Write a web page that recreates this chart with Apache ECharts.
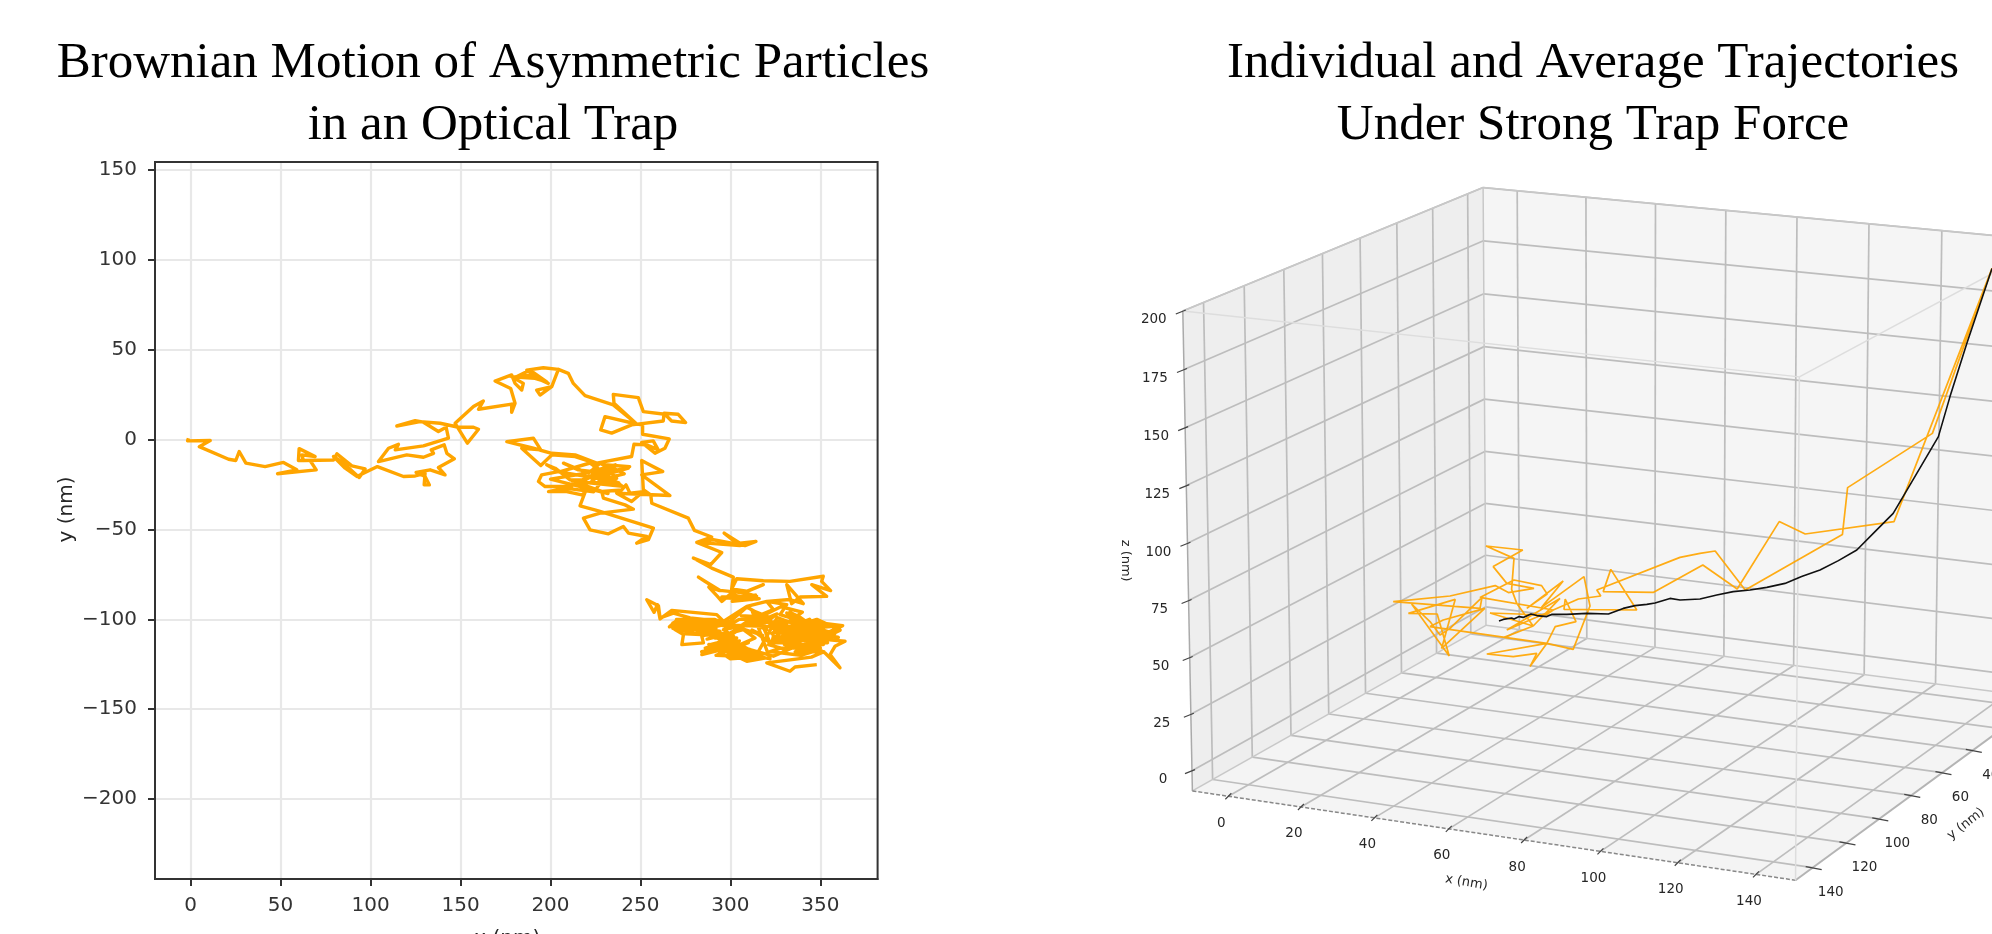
<!DOCTYPE html>
<html><head><meta charset="utf-8"><style>html,body{margin:0;padding:0;background:#fff}#c{width:1992px;height:934px}</style>
<script src="https://cdn.jsdelivr.net/npm/echarts@6/dist/echarts.min.js"></script></head><body><div id="c"></div><script>
const titleLeft = "Brownian Motion of Asymmetric Particles\nin an Optical Trap";
const titleRight = "Individual and Average Trajectories\nUnder Strong Trap Force";
const xTicksLeft = [0,50,100,150,200,250,300,350];
const yTicksLeft = [-200,-150,-100,-50,0,50,100,150];
const pathX = [-1.2,-1.7,10.9,4.8,21.1,25.1,27,30.7,41.4,51.6,59,48.3,69.8,66.4,59.9,60.3,69.2,61.8,62.7,79.4,81.3,89.6,97,93.7,85,79.4,85.9,92.4,103.8,118.3,124.8,130.3,129.8,132.7,130.3,125.3,133.1,141.4,137.7,146.6,142.4,140.9,133.7,135,129.4,120.1,104.4,110,115.5,113.7,129.4,143.3,142,137.7,129.4,124.8,114.6,127.5,138.7,148.9,157.2,160,153.8,147,157.2,162.7,160,178.5,178.4,180.3,177.9,169.2,178.4,180.3,184,184.9,178.4,191.4,197.9,188.6,179.4,188.6,198.8,191.4,186.8,196,204.4,200.7,194.2,192.3,200.7,204.4,209.9,212.7,219.2,234.9,247.9,230.3,227.9,234,245.1,262.7,263.1,271,275.1,267.3,263.6,251.6,248.8,234.9,235.3,247.9,251.2,251.2,266,263.6,258.1,250.7,257.1,259.9,253.4,246.4,246.1,245.1,225.7,213.7,200.7,190.5,175.7,190.5,194.6,184,194.6,200.7,213.7,224.8,222.9,233.1,243.3,235.9,227.6,221.1,207.2,215.5,223.9,227.6,236.8,230,244,226,238,222,233,241,229,205,222,240,212,232,200,218,236,224,208,227.6,219.2,210.9,202.6,197.9,204.4,195.1,193.3,197,211.8,198.9,209,217.4,219.2,216.4,226.6,257.2,254.4,247.9,253.5,243.3,240.5,232.2,222,218.3,227.6,246.1,241.4,229.4,228.5,239.6,242,244.2,251.6,245.1,236.8,266.4,250.7,262.4,253.5,250.7,251.6,255.7,256.3,276.6,280,289.6,281.3,305.3,296.5,305.3,314.2,308.1,290.5,281.3,295.2,289,279.4,289.6,301.6,300.7,309,318.3,307.2,294.2,282.2,286,294,288,292.8,295.2,300,312,297,314,301,316,314.6,295.2,314.6,300.7,303.5,318.3,333.1,351.6,350.7,355.7,345.2,353.5,338.7,334,331.3,340.5,333.1,320.2,309.1,296.1,292.4,267.4,260.9,259.4,257.6,253.5,260,260.9,268.3,277.6,294.2,281.3,270.2,266.1,273.9,286.8,277.6,269.2,273.9,273,285,284.1,294.2,279.4,290.5,299.8,305.4,309.1,315.5,305.4,296.1,301.7,291.5,303.5,288.7,296.1,284.1,295.2,309.1,319.2,305.4,313.7,307.2,299.8,310.9,320.2,312.8,323.9,320.2,331.3,327.6,336.8,323.9,335,324.8,342.4,331.3,342.4,362.4,353.5,348,346.1,336.8,349.8,342.4,323.9,323,336.8,331.3,321.1,323.9,353.5,363.7,358.1,355.4,360.9,352.6,346.1,340.5,335,348,338.7,327.6,344.2,351.7,338.7,323.9,310.9,303.5,314.6,326,345,328,352,330,356,334,350,329,358,338,346,326,344,354,332,349,340,335,360,342,352,337,347,330,343,356,339,333,345,350,328,322,339,346,330,320,305,298,286,272,290,276,296,283,269,288,300,280,268,292,284,275,295,287,303,293,299,286,305,294,309,298,316,303,322,312,322,306,318,326,314,330,322,268,298,278,300,284,310,292,314,300,288,306,296,282,270,291,303,318,312,322,316,328,340,323,348,361,336,352,345,320.2,333.1,335.9,348];
const pathY = [0.8,-0.7,-0.5,-3.9,-10.9,-11.6,-6.6,-13.1,-15,-12.7,-16.8,-19,-16.8,-11.6,-11.6,-5,-9.4,-8.5,-11.6,-11.3,-7.9,-14.6,-16.3,-21.1,-13.1,-9.4,-15.9,-20.5,-15,-20.5,-20.2,-18.7,-25.2,-25.2,-20.5,-18.3,-16.8,-19.6,-15.5,-10.7,-7.6,-2.9,-5.7,-7.6,-9.8,-8.5,-12.2,-4.8,-2.6,-5.7,-3.5,0.8,6.9,4.5,9.7,10.6,7.6,10,9.1,6.9,6.9,5.8,-2,9.1,18.4,21.5,16.9,19.8,15.2,20.2,28.5,32.6,36,31.3,27.6,31.3,35,34.1,32.2,38.7,34.1,36,31.3,36,38.7,40,39.1,29.5,24.8,27.6,29.5,39.1,36.9,31.3,24.5,19.3,8.7,12.8,5.4,3.6,8.2,10.4,14.7,14.1,9.5,10.4,14.1,15.6,23.4,25.2,20.2,8.7,8.2,3,0.4,-4.8,-7.6,-1.5,-0.7,-5.7,-2.9,-2.6,-2.4,-9.4,-13.1,-8.5,-7.6,-4.8,-1.1,0.8,-5.7,-4.8,-14.4,-8.5,-9.4,-13.1,-21.5,-18.7,-15.9,-17.8,-13.1,-18.7,-13.1,-16.8,-17.8,-23.3,-21.5,-14,-15,-20,-24,-24,-15,-19,-22,-18,-13,-26,-23,-30,-22,-19,-14,-29,-27,-17.8,-22.4,-22.4,-15.9,-14,-17.8,-19.6,-23.3,-26.1,-26.1,-28.9,-28.9,-30.7,-29.4,-36.8,-39.6,-49.2,-55.7,-57.6,-53.9,-52,-48.3,-52.4,-50.2,-43.7,-40.9,-38.7,-36.3,-32.6,-28.9,-28,-25.2,-29.8,-28.9,-34.4,-29.8,-31.1,-19.6,-17.8,-13.1,-11.6,-27.9,-30.7,-35.4,-43.7,-50.5,-54.2,-57.2,-59,-52,-57.6,-56.6,-59,-55.7,-57.2,-62.8,-69.6,-65.9,-71.5,-76.5,-83.1,-84.4,-80.7,-85.3,-83.9,-76.5,-79,-84,-82,-87.2,-90,-86,-89,-88,-86.5,-90,-88.5,-88.7,-87.6,-87.2,-83.1,-77.4,-78.5,-78.9,-76,-78.9,-84,-80.7,-87.2,-87.6,-91.3,-80.7,-91.3,-89,-90,-92.8,-101.1,-97.4,-95,-99.8,-91.8,-96.1,-89.1,-92.4,-99.2,-96.5,-99.2,-101.1,-101.1,-100.5,-104.2,-102,-103.5,-106.6,-105.7,-108.5,-114.1,-113.1,-109.4,-106.6,-104.8,-102,-101.1,-96.5,-93.1,-96.8,-103.9,-105.7,-109.4,-110.4,-110.4,-114.1,-115,-119.6,-116.8,-123.3,-121.5,-114.1,-110.4,-105.7,-107.6,-102,-105.7,-99.2,-94.6,-90,-91.8,-97.4,-100.2,-103.9,-107.6,-106.6,-102,-96.5,-101.1,-103.5,-107.6,-102,-112.2,-106.6,-104.8,-111.3,-109.4,-113.1,-113.1,-116.8,-114.1,-111.3,-111.3,-112.2,-115,-119.6,-127,-118.7,-115,-118.7,-111.3,-108.5,-103.9,-111.3,-105.7,-114,-114,-120.5,-116.8,-115,-119.6,-99,-106,-103,-108,-106,-104,-100,-110,-109,-108,-102,-113,-107,-100,-113,-111,-103,-116,-105,-110,-108,-104,-113,-117,-114,-105,-111,-99,-96,-109,-116,-116,-118,-120,-118,-113,-100,-100,-104,-101,-103,-106,-104,-103,-106,-103,-108,-108,-108,-105,-105,-103,-108,-109,-111,-107,-113,-112,-116,-112,-118,-117,-120,-120,-118,-122,-95,-99,-98,-103,-97,-102,-101,-104,-102,-111,-101,-115,-118,-113,-120,-121,-122,-114,-119,-108,-105,-100,-100,-104,-109,-106,-113,-99,-93,-96,-108,-100,-106,-118,-118,-121,-124.2,-128.9,-126.5,-125.2];

const xTicks3d = [0,20,40,60,80,100,120,140];
const yTicks3d = [0,20,40,60,80,100,120,140];
const zTicks3d = [0,25,50,75,100,125,150,175,200];
const yLabels3d = [40,60,80,100,120,140];
const boxWorld = [[-10,-9,200],[-10,-9,-9],[-10,150,200],[-10,150,-9],[150,150,200],[150,150,-9],[150,-9,200],[150,-9,-9]];
const boxViewU = [64.1,64.9,-10.6,-8.3,143.1,142.3,206.9,204.6];
const boxViewV = [291.7,72.5,230.3,-9.8,196.9,-54.9,264.9,36.9];
const trapIndividualU = [191.5,167,144.8,138.3,127.8,119.2,106.8,94.3,96.2,102.7,84.5,84.8,87.5,82.3,80.2,65.2,71.8,77.7,76,80.2,69.5,76.8,72.7,71.4,72,65,74.2,66.8,70.2,77,70.6,67.3,56,41.8,63.5,64,56,53.5,51,46.4,55.8,52.8,45.6,57.3,53.9,64.7,54.3,51,80.2,86.8,91,89.5,78.9,84.3,75.2,80.3,78.9,72,63.5,81.8,70.2,83.5,76.8,66,80,81.8,88.1,93.7,92.7,113.5,118.5,122.3,129.8,154.1,155.4,176.6,191.5];
const trapIndividualV = [251.3,124.7,118.5,124.7,91,103,89.3,89.7,100.8,80.5,80.8,86,74.7,72.2,63.8,58.5,57.2,58.8,52.2,63.8,66.8,72.5,83.8,90.8,106.3,112.5,110.5,102.2,93.8,91.3,89.2,92.7,87.5,84.7,81.3,86.8,71.3,68,74.7,83.5,57.5,78.5,78.8,85.8,61.3,81.3,75.5,72.2,63.8,60.8,82.5,97.2,81.8,95,81.3,88.5,92.7,95.5,86.8,80.5,70.5,86.3,72.5,79,78,80.5,86,87.5,90.5,106.8,108.8,110,90.5,118.2,141.7,168.8,251.3];
const trapAverageU = [68.25,69.3,71.4,72,73.3,74.3,76.25,77.7,80.2,81.4,85.2,90.2,95.6,99.3,102.25,105.2,107.25,111,113.5,118.5,122.7,126.8,131,135.2,139.75,143.9,148.5,153.1,157.7,162.25,166.8,172.7,178.1,181,185.2,191.5];
const trapAverageV = [75,75.8,76.5,76,77.2,76.8,78.5,77.7,77.2,78.3,78.3,78.8,78.5,81.3,82.7,83.3,84,86.3,85.5,86,88,89.7,90.5,91.8,93.8,97.2,100.5,105.2,110.5,119.7,128.8,148.8,167.2,187.2,213.8,251.3];

const XR=[-10,150],YR=[-9,150],ZR=[-9,200];
function solve(A,b){const n=b.length;for(let i=0;i<n;i++){let m=i;for(let k=i+1;k<n;k++)if(Math.abs(A[k][i])>Math.abs(A[m][i]))m=k;[A[i],A[m]]=[A[m],A[i]];[b[i],b[m]]=[b[m],b[i]];for(let k=i+1;k<n;k++){const f=A[k][i]/A[i][i];for(let j=i;j<n;j++)A[k][j]-=f*A[i][j];b[k]-=f*b[i];}}const x=Array(n).fill(0);for(let i=n-1;i>=0;i--){let s=b[i];for(let j=i+1;j<n;j++)s-=A[i][j]*x[j];x[i]=s/A[i][i];}return x;}
function fitCamera(){const rows=[],rhs=[];boxWorld.forEach((w,i)=>{const[X,Y,Z]=w.map(v=>v/100),u=boxViewU[i]/100,v=boxViewV[i]/100;rows.push([X,Y,Z,1,0,0,0,0,-u*X,-u*Y,-u*Z]);rhs.push(u);rows.push([0,0,0,0,X,Y,Z,1,-v*X,-v*Y,-v*Z]);rhs.push(v);});const N=Array.from({length:11},()=>Array(11).fill(0)),B=Array(11).fill(0);rows.forEach((r,k)=>{for(let i=0;i<11;i++){B[i]+=r[i]*rhs[k];for(let j=0;j<11;j++)N[i][j]+=r[i]*r[j];}});return solve(N,B);}
const cam=fitCamera();
function proj(x,y,z){const X=x/100,Y=y/100,Z=z/100,w=cam[8]*X+cam[9]*Y+cam[10]*Z+1;return[100*(cam[0]*X+cam[1]*Y+cam[2]*Z+cam[3])/w,100*(cam[4]*X+cam[5]*Y+cam[6]*Z+cam[7])/w];}

function renderBox(params,api){
 const c=[];const P=(x,y,z)=>api.coord(proj(x,y,z));
 const poly=(pts,fill)=>c.push({type:'polygon',shape:{points:pts},style:{fill:fill,stroke:null}});
 const line=(a,b,col,w,dash)=>c.push({type:'line',shape:{x1:a[0],y1:a[1],x2:b[0],y2:b[1]},style:{stroke:col,lineWidth:w,lineDash:dash||null}});
 const text=(s,p,dx,dy,size,rot)=>c.push({type:'text',x:p[0]+dx,y:p[1]+dy,rotation:rot||0,style:{text:s,font:size+'px "DejaVu Sans"',fill:'#262626',align:'center',verticalAlign:'middle'}});
 const[x0,x1]=XR,[y0,y1]=YR,[z0,z1]=ZR;
 poly([P(x0,y0,z0),P(x0,y1,z0),P(x0,y1,z1),P(x0,y0,z1)],'#eeeeee');
 poly([P(x0,y0,z0),P(x1,y0,z0),P(x1,y0,z1),P(x0,y0,z1)],'#f5f5f5');
 poly([P(x0,y0,z0),P(x1,y0,z0),P(x1,y1,z0),P(x0,y1,z0)],'#f4f4f4');
 const G='#bdbdbd',GW=1.7;
 xTicks3d.forEach(x=>{line(P(x,y0,z0),P(x,y0,z1),G,GW);line(P(x,y0,z0),P(x,y1,z0),G,GW);});
 yTicks3d.forEach(y=>{line(P(x0,y,z0),P(x0,y,z1),G,GW);line(P(x0,y,z0),P(x1,y,z0),G,GW);});
 zTicks3d.forEach(z=>{line(P(x0,y0,z),P(x0,y1,z),G,GW);line(P(x0,y0,z),P(x1,y0,z),G,GW);});
 line(P(x0,y0,z0),P(x0,y0,z1),'#c8c8c8',1.5);line(P(x0,y0,z1),P(x0,y1,z1),'#c8c8c8',1.5);line(P(x0,y0,z1),P(x1,y0,z1),'#c8c8c8',1.5);
 line(P(x0,y0,z0),P(x0,y1,z0),'#c8c8c8',1.5);line(P(x0,y0,z0),P(x1,y0,z0),'#c8c8c8',1.5);
 line(P(x0,y1,z0),P(x0,y1,z1),'#aaaaaa',1.5);
 line(P(x1,y1,z0),P(x1,y0,z0),'#b4b4b4',2);
 line(P(x0,y1,z0),P(x1,y1,z0),'#888888',1.5,[4,2]);
 const F='#dddddd';
 line(P(x0,y1,z1),P(x1,y1,z1),F,1.5);line(P(x1,y1,z1),P(x1,y1,z0),F,1.5);line(P(x1,y1,z1),P(x1,y0,z1),F,1.5);
 const T='#444444';
 zTicks3d.forEach(z=>{const p=P(x0,y1,z);line([p[0]-7,p[1]+3],[p[0]+3,p[1]-1],T,1.2);text(String(z),p,-29,9,13.5);});
 xTicks3d.forEach(x=>{const p=P(x,y1,z0);line([p[0]-3,p[1]+3],[p[0]+3,p[1]-3],T,1.2);text(String(x),p,-7,27,13.5);});
 yLabels3d.forEach(y=>{const p=P(x1,y,z0);line([p[0]-7,p[1]-1],[p[0]+9,p[1]+2],T,1.2);text(String(y),p,18,25,13.5);});
 text('x (nm)',P(70,y1,z0),-20,48,13,-0.17);
 text('y (nm)',P(x1,70,z0),39,40,13,0.66);
 text('z (nm)',P(x0,y1,95),-62,6,13,-Math.PI/2);
 return{type:'group',children:c};
}
const minus=v=>String(v).replace('-','\u2212');
const serif='"Liberation Serif"';
const chart=echarts.init(document.getElementById('c'),null,{renderer:'canvas'});
chart.setOption({animation:false,backgroundColor:'#fff',
 title:[
  {text:titleLeft,left:488,top:28,textAlign:'center',textStyle:{fontFamily:serif,fontWeight:'normal',fontSize:51,lineHeight:62,color:'#000'}},
  {text:titleRight,left:1588,top:28,textAlign:'center',textStyle:{fontFamily:serif,fontWeight:'normal',fontSize:51,lineHeight:62,color:'#000'}}],
 graphic:[{type:'rect',silent:true,z:20,shape:{x:155,y:162,width:722.6,height:717},style:{fill:null,stroke:'#333',lineWidth:2}}],
 grid:[{left:155,top:162,width:722.6,height:717,show:false,containLabel:false,outerBoundsMode:'none'},
       {left:1100,top:170,width:892,height:764,show:false,outerBoundsMode:'none'}],
 xAxis:[{gridIndex:0,type:'value',min:-19.8,max:381.8,name:'x (nm)',nameLocation:'middle',nameGap:50,nameTextStyle:{fontFamily:'DejaVu Sans',fontSize:20,color:'#262626',padding:[0,18,0,0]},
   axisLine:{show:true,onZero:false,lineStyle:{color:'#333',width:2}},axisTick:{show:true,length:7,lineStyle:{color:'#333',width:2},customValues:xTicksLeft},
   axisLabel:{customValues:xTicksLeft,formatter:minus,fontFamily:'DejaVu Sans',fontSize:20,color:'#333',margin:17},
   splitLine:{show:true,lineStyle:{color:'#e8e8e8',width:2.2}}},
  {gridIndex:1,type:'value',min:-31.5,max:191.5,show:false}],
 yAxis:[{gridIndex:0,type:'value',min:-244.5,max:154.5,name:'y (nm)',nameLocation:'middle',nameGap:78,nameTextStyle:{fontFamily:'DejaVu Sans',fontSize:20,color:'#262626',padding:[0,0,0,22]},
   axisLine:{show:true,onZero:false,lineStyle:{color:'#333',width:2}},axisTick:{show:true,length:7,lineStyle:{color:'#333',width:2},customValues:yTicksLeft},
   axisLabel:{customValues:yTicksLeft,formatter:minus,fontFamily:'DejaVu Sans',fontSize:20,color:'#333',margin:18},
   splitLine:{show:true,lineStyle:{color:'#e8e8e8',width:2.2}}},
  {gridIndex:1,type:'value',min:-81.5,max:300.5,show:false}],
 series:[
  {name:'Brownian path',type:'line',xAxisIndex:0,yAxisIndex:0,data:pathX.map((x,i)=>[x,pathY[i]]),showSymbol:false,symbol:'none',lineStyle:{color:'#FFA500',width:3.4,join:'round'},silent:true,z:3},
  {name:'Box',type:'custom',xAxisIndex:1,yAxisIndex:1,coordinateSystem:'cartesian2d',data:[[0,0]],renderItem:renderBox,silent:true,clip:false,z:1},
  {name:'Individual',type:'line',xAxisIndex:1,yAxisIndex:1,data:trapIndividualU.map((x,i)=>[x,trapIndividualV[i]]),showSymbol:false,symbol:'none',lineStyle:{color:'#FFA500',width:1.7,opacity:.92},silent:true,z:3},
  {name:'Average',type:'line',xAxisIndex:1,yAxisIndex:1,data:trapAverageU.map((x,i)=>[x,trapAverageV[i]]),showSymbol:false,symbol:'none',lineStyle:{color:'#111',width:1.6},silent:true,z:4}
 ]});
</script></body></html>
